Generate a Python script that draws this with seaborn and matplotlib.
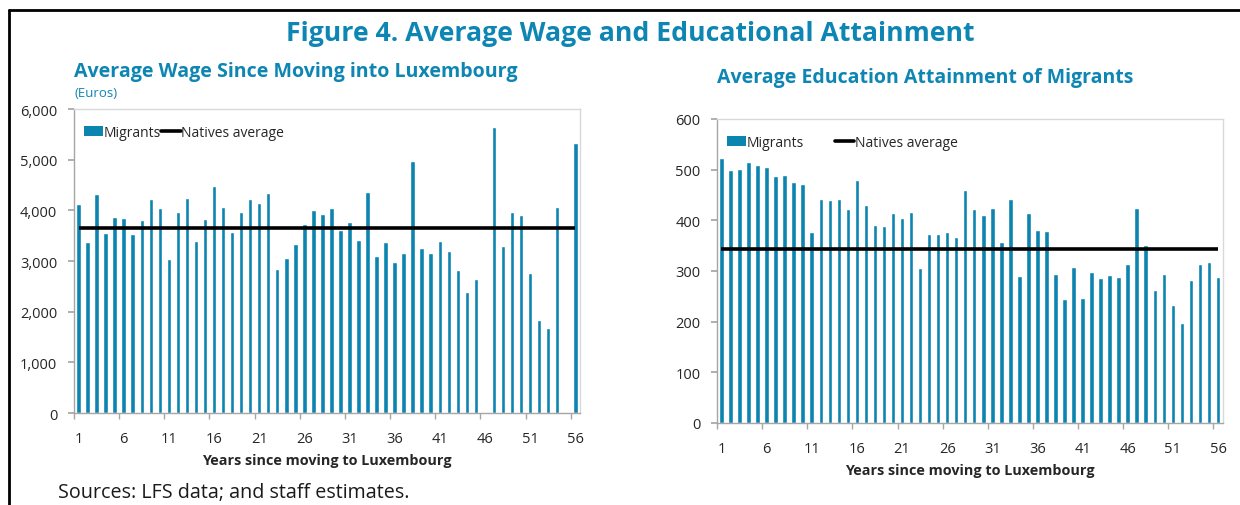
"""
Figure 4: salario medio y nivel educativo de los migrantes en Luxemburgo.
"""

import numpy as np
import pandas as pd
import matplotlib
matplotlib.use("Agg")
import matplotlib.pyplot as plt
from matplotlib.lines import Line2D
from matplotlib.patches import Patch
import seaborn as sns

# ---- datos ----
years = list(range(1, 57))

wage_migrants = [
    4125, 3375, 4315, 3550, 3870, 3850, 3530, 3810, 4220, 4045,
    3030, 3960, 4245, 3400, 3835, 4480, 4070, 3570, 3960, 4220,
    4140, 4340, 2835, 3060, 3335, 3725, 4000, 3920, 4040, 3605,
    3770, 3410, 4355, 3090, 3370, 2985, 3165, 4980, 3250, 3165,
    3390, 3190, 2830, 2380, 2650, np.nan, 5645, 3300, 3960, 3910,
    2755, 1840, 1670, 4070, np.nan, 5320,
]
wage_natives = 3660

edu_migrants = [
    523, 499, 501, 516, 509, 505, 487, 489, 475, 471,
    377, 443, 440, 443, 423, 480, 430, 391, 389, 415,
    405, 416, 306, 372, 372, 376, 367, 459, 422, 410,
    425, 358, 443, 290, 415, 380, 378, 295, 245, 307,
    246, 298, 286, 292, 288, 314, 424, 351, 262, 295,
    233, 197, 282, 314, 318, 289,
]
edu_natives = 343

tick_years = years[::5]

BLUE = "#0C84B0"
TITLE_BLUE = "#0E86B3"
FONT = ["Open Sans", "DejaVu Sans"]

sns.set_theme(style="white")
plt.rcParams["font.family"] = FONT


def panel(ax, values, natives, ymax, ystep, legend_gap):
    df = pd.DataFrame({"year": years, "value": values})
    sns.barplot(data=df, x="year", y="value", order=years, color=BLUE,
                saturation=1, width=0.5, ax=ax)
    ax.plot(range(len(years)), [natives] * len(years), color="black",
            lw=2.6, solid_capstyle="butt")

    ax.set_ylim(0, ymax)
    ax.set_yticks(np.arange(0, ymax + 1, ystep))
    ax.yaxis.set_major_formatter(matplotlib.ticker.StrMethodFormatter("{x:,.0f}"))
    ax.set_xlim(-0.45, len(years) - 0.48)

    pos = [years.index(t) for t in tick_years]
    ax.set_xticks(pos)
    ax.set_xticklabels([str(t) for t in tick_years])
    ax.set_xticks([p - 0.5 for p in pos], minor=True)
    ax.tick_params(axis="x", which="major", length=0, pad=13, labelsize=10.5)
    ax.tick_params(axis="x", which="minor", length=4, color="#A6A6A6",
                   direction="out", bottom=True)
    ax.tick_params(axis="y", length=4, color="#A6A6A6", direction="out",
                   left=True, labelsize=10.5, pad=8)

    for s in ("left", "bottom"):
        ax.spines[s].set_color("#A6A6A6")
        ax.spines[s].set_linewidth(1.0)
    for s in ("top", "right"):
        ax.spines[s].set_color("#D9D9D9")
        ax.spines[s].set_linewidth(1.0)

    ax.set_ylabel("")
    ax.set_xlabel("Years since moving to Luxembourg", fontsize=10.4,
                  fontweight="bold", labelpad=5)

    handles = [Patch(facecolor=BLUE, edgecolor="none"),
               Line2D([], [], color="black", lw=2.6)]
    ax.legend(handles, ["Migrants", "Natives average"], loc="upper left",
              bbox_to_anchor=(0.0, 0.98), ncol=2, frameon=False, fontsize=10,
              handlelength=1.4, handleheight=0.8, handletextpad=0.05,
              columnspacing=legend_gap, borderaxespad=0.3)


fig = plt.figure(figsize=(12.4, 5.06), dpi=100)

ax1 = fig.add_axes([0.0597, 0.1818, 0.408, 0.6008])
panel(ax1, wage_migrants, wage_natives, 6000, 1000, 0.0)

ax2 = fig.add_axes([0.5782, 0.1621, 0.4078, 0.6008])
panel(ax2, edu_migrants, edu_natives, 600, 100, 2.2)

fig.text(0.508, 0.932, "Figure 4. Average Wage and Educational Attainment",
         ha="center", va="center", fontsize=19.2, fontweight="bold",
         color=TITLE_BLUE)
fig.text(0.0597, 0.857, "Average Wage Since Moving into Luxembourg",
         ha="left", va="center", fontsize=14.1, fontweight="bold",
         color=TITLE_BLUE)
fig.text(0.0597, 0.815, "(Euros)", ha="left", va="center", fontsize=9.5,
         color=TITLE_BLUE)
fig.text(0.578, 0.845, "Average Education Attainment of Migrants",
         ha="left", va="center", fontsize=14, fontweight="bold",
         color=TITLE_BLUE)
fig.text(0.047, 0.026, "Sources: LFS data; and staff estimates.",
         ha="left", va="center", fontsize=14.2, color="#1A1A1A")

# marco negro (superior e izquierdo)
fig.add_artist(Line2D([8.5 / 1240, 1.0], [1 - 10.5 / 506] * 2,
                      color="black", lw=2.0, transform=fig.transFigure))
fig.add_artist(Line2D([8.5 / 1240] * 2, [0.0, 1 - 10.5 / 506],
                      color="black", lw=2.0, transform=fig.transFigure))

fig.savefig("out.png", dpi=100)
